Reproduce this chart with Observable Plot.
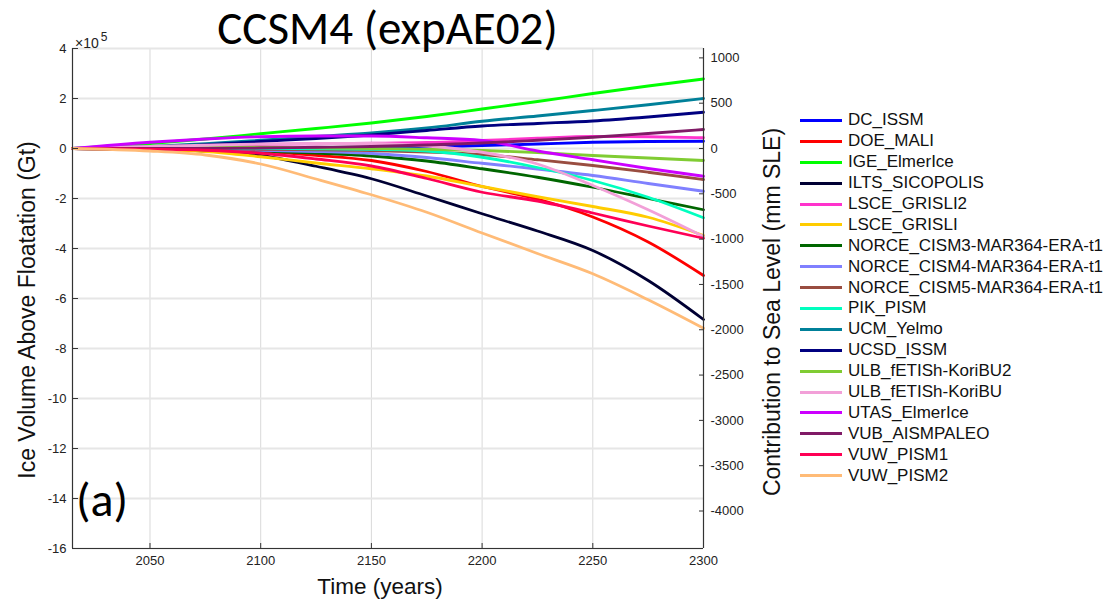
<!DOCTYPE html>
<html>
<head>
<meta charset="utf-8">
<script src="https://cdn.jsdelivr.net/npm/d3@7"></script>
<script src="https://cdn.jsdelivr.net/npm/@observablehq/plot@0.6"></script>
<style>
  html, body { margin: 0; padding: 0; background: #fff; }
  #wrap { position: relative; width: 1109px; height: 602px; overflow: hidden; font-family: "Liberation Sans", Arial, sans-serif; }
  #chart { position: absolute; left: 0; top: 0; }
  .title { position: absolute; left: 72px; width: 631px; top: -1px; text-align: center; font-family: Carlito, Lato, sans-serif; font-size: 47px; color: #000; }
  .exp { position: absolute; left: 75px; top: 31px; font-size: 14px; color: #222; }
  .exp sup { font-size: 12px; position: relative; top: -1px; margin-left: 2px; }
  .ylab { position: absolute; white-space: nowrap; font-size: 23px; color: #111; transform: translate(-50%, -50%) rotate(-90deg); }
  .xlab { position: absolute; left: 380px; top: 587px; transform: translate(-50%, -50%); font-size: 22.5px; color: #111; white-space: nowrap; }
  .panel { position: absolute; left: 76px; top: 470px; font-family: Carlito, Lato, sans-serif; font-size: 48px; color: #000; }
  #legend { position: absolute; left: 800px; top: 110px; }
  .item { display: flex; align-items: center; height: 20.9px; font-size: 17px; color: #111; white-space: nowrap; }
  .swatch { width: 42px; height: 3px; margin-right: 6px; }
</style>
</head>
<body>
<div id="wrap">
  <div id="chart"></div>
  <div class="title">CCSM4 (expAE02)</div>
  <div class="exp">×10<sup>5</sup></div>
  <div class="ylab" style="left:27px; top:310px;">Ice Volume Above Floatation (Gt)</div>
  <div class="ylab" style="left:772px; top:312px;">Contribution to Sea Level (mm SLE)</div>
  <div class="xlab">Time (years)</div>
  <div class="panel">(a)</div>
  <div id="legend"></div>
</div>
<script>
// Ice volume above floatation change, in units of 1e5 Gt
const years = [2015, 2050, 2075, 2100, 2125, 2150, 2175, 2200, 2225, 2250, 2275, 2300];

const models = [
  "DC_ISSM", "DOE_MALI", "IGE_ElmerIce", "ILTS_SICOPOLIS", "LSCE_GRISLI2", "LSCE_GRISLI",
  "NORCE_CISM3-MAR364-ERA-t1", "NORCE_CISM4-MAR364-ERA-t1", "NORCE_CISM5-MAR364-ERA-t1",
  "PIK_PISM", "UCM_Yelmo", "UCSD_ISSM", "ULB_fETISh-KoriBU2", "ULB_fETISh-KoriBU",
  "UTAS_ElmerIce", "VUB_AISMPALEO", "VUW_PISM1", "VUW_PISM2"
];

const colors = [
  "#0000ff", "#ff0000", "#00ff00", "#000033", "#ff33cc", "#ffcc00",
  "#006600", "#8080ff", "#994d40",
  "#00ffbf", "#008099", "#000080", "#80cc33", "#f2a0d8",
  "#cc00ff", "#801a66", "#ff0055", "#ffbb77"
];

const DC_ISSM        = [0, -0.04, -0.09, -0.12, -0.08, -0.02, 0.06, 0.12, 0.18, 0.25, 0.28, 0.29];
const DOE_MALI       = [0, -0.02, -0.03, -0.11, -0.27, -0.48, -0.92, -1.52, -2.02, -2.74, -3.74, -5.08];
const IGE_ElmerIce   = [0, 0.2, 0.38, 0.59, 0.8, 1.02, 1.28, 1.58, 1.88, 2.2, 2.5, 2.78];
const ILTS_SICOPOLIS = [0, -0.03, -0.1, -0.28, -0.71, -1.21, -1.9, -2.61, -3.3, -4.08, -5.28, -6.84];
const LSCE_GRISLI2   = [0, 0.08, 0.12, 0.16, 0.19, 0.21, 0.24, 0.32, 0.41, 0.48, 0.47, 0.43];
const LSCE_GRISLI    = [0, -0.05, -0.12, -0.33, -0.58, -0.81, -1.1, -1.52, -1.93, -2.32, -2.75, -3.48];
const NORCE_CISM3    = [0, -0.02, -0.05, -0.1, -0.18, -0.3, -0.5, -0.81, -1.15, -1.55, -2.0, -2.45];
const NORCE_CISM4    = [0, -0.02, -0.04, -0.07, -0.12, -0.2, -0.36, -0.59, -0.82, -1.08, -1.4, -1.71];
const NORCE_CISM5    = [0, -0.01, -0.02, -0.03, -0.05, -0.08, -0.14, -0.24, -0.45, -0.68, -0.95, -1.24];
const PIK_PISM       = [0, 0.01, 0.01, 0.0, -0.01, -0.03, -0.1, -0.35, -0.76, -1.28, -1.95, -2.77];
const UCM_Yelmo      = [0, 0.08, 0.19, 0.33, 0.48, 0.62, 0.82, 1.09, 1.3, 1.52, 1.75, 2.0];
const UCSD_ISSM      = [0, 0.05, 0.15, 0.28, 0.4, 0.54, 0.72, 0.9, 1.0, 1.1, 1.26, 1.45];
const ULB_KoriBU2    = [0, 0.03, 0.05, 0.05, 0.03, 0.0, -0.03, -0.08, -0.16, -0.28, -0.38, -0.48];
const ULB_KoriBU     = [0, 0.08, 0.13, 0.18, 0.2, 0.2, 0.1, -0.15, -0.62, -1.48, -2.45, -3.52];
const UTAS_ElmerIce  = [0, 0.25, 0.38, 0.47, 0.5, 0.5, 0.43, 0.32, -0.1, -0.45, -0.8, -1.11];
const VUB_AISMPALEO  = [0, 0.0, 0.0, 0.02, 0.05, 0.08, 0.14, 0.22, 0.33, 0.45, 0.6, 0.76];
const VUW_PISM1      = [0, -0.03, -0.07, -0.19, -0.42, -0.7, -1.2, -1.75, -2.1, -2.58, -3.1, -3.59];
const VUW_PISM2      = [0, -0.1, -0.26, -0.62, -1.22, -1.85, -2.55, -3.38, -4.2, -5.01, -6.05, -7.19];

const series = [
  DC_ISSM, DOE_MALI, IGE_ElmerIce, ILTS_SICOPOLIS, LSCE_GRISLI2, LSCE_GRISLI,
  NORCE_CISM3, NORCE_CISM4, NORCE_CISM5, PIK_PISM, UCM_Yelmo, UCSD_ISSM,
  ULB_KoriBU2, ULB_KoriBU, UTAS_ElmerIce, VUB_AISMPALEO, VUW_PISM1, VUW_PISM2
];

// Axis ticks
const xTicks = [2050, 2100, 2150, 2200, 2250, 2300];
const yTicks = [4, 2, 0, -2, -4, -6, -8, -10, -12, -14, -16];
const sleTicks = [1000, 500, 0, -500, -1000, -1500, -2000, -2500, -3000, -3500, -4000];
const xDomain = [2015, 2300];
const yDomain = [-16, 4];

// 362.5 Gt of ice above floatation per mm of sea level
const GT_PER_MM = 362.5;
const toVolume = mm => mm * GT_PER_MM / 1e5;
const toSLE = v => String(Math.round(v * 1e5 / GT_PER_MM));

const rows = models.flatMap((m, i) => years.map((yr, j) => ({model: m, year: yr, value: series[i][j]})));

const chart = Plot.plot({
  width: 790,
  height: 602,
  marginLeft: 72,
  marginRight: 87,
  marginTop: 48,
  marginBottom: 54,
  style: {fontFamily: "'Liberation Sans', Arial, sans-serif", fontSize: "13px", color: "#222", background: "white"},
  x: {domain: xDomain},
  y: {domain: yDomain},
  color: {domain: models, range: colors},
  marks: [
    Plot.gridX(xTicks, {stroke: "#d9d9d9", strokeOpacity: 1, strokeWidth: 1}),
    Plot.gridY(yTicks, {stroke: "#e6e6e6", strokeOpacity: 1, strokeWidth: 2}),
    Plot.lineY(rows, {x: "year", y: "value", z: "model", stroke: "model", strokeWidth: 2.8, curve: "monotone-x"}),
    Plot.ruleX([xDomain[0], xDomain[1]], {stroke: "#333", strokeWidth: 1.2}),
    Plot.ruleY([yDomain[0]], {stroke: "#333", strokeWidth: 1.2}),
    Plot.axisX(xTicks, {anchor: "bottom", tickSize: -5, tickPadding: 12, fontSize: 13, label: null, stroke: "#333", tickFormat: d => String(d)}),
    Plot.axisY(yTicks, {anchor: "left", tickSize: -6, tickPadding: 12, fontSize: 13, label: null, stroke: "#333", tickFormat: d => String(d)}),
    Plot.axisY(sleTicks.map(toVolume), {anchor: "right", tickSize: -5, tickPadding: 12, fontSize: 13, label: null, stroke: "#333", tickFormat: toSLE})
  ]
});
document.getElementById("chart").appendChild(chart);

// Legend
const legend = document.getElementById("legend");
models.forEach((m, i) => {
  const item = document.createElement("div");
  item.className = "item";
  const sw = document.createElement("span");
  sw.className = "swatch";
  sw.style.background = colors[i];
  item.appendChild(sw);
  item.appendChild(document.createTextNode(m));
  legend.appendChild(item);
});
</script>
</body>
</html>
